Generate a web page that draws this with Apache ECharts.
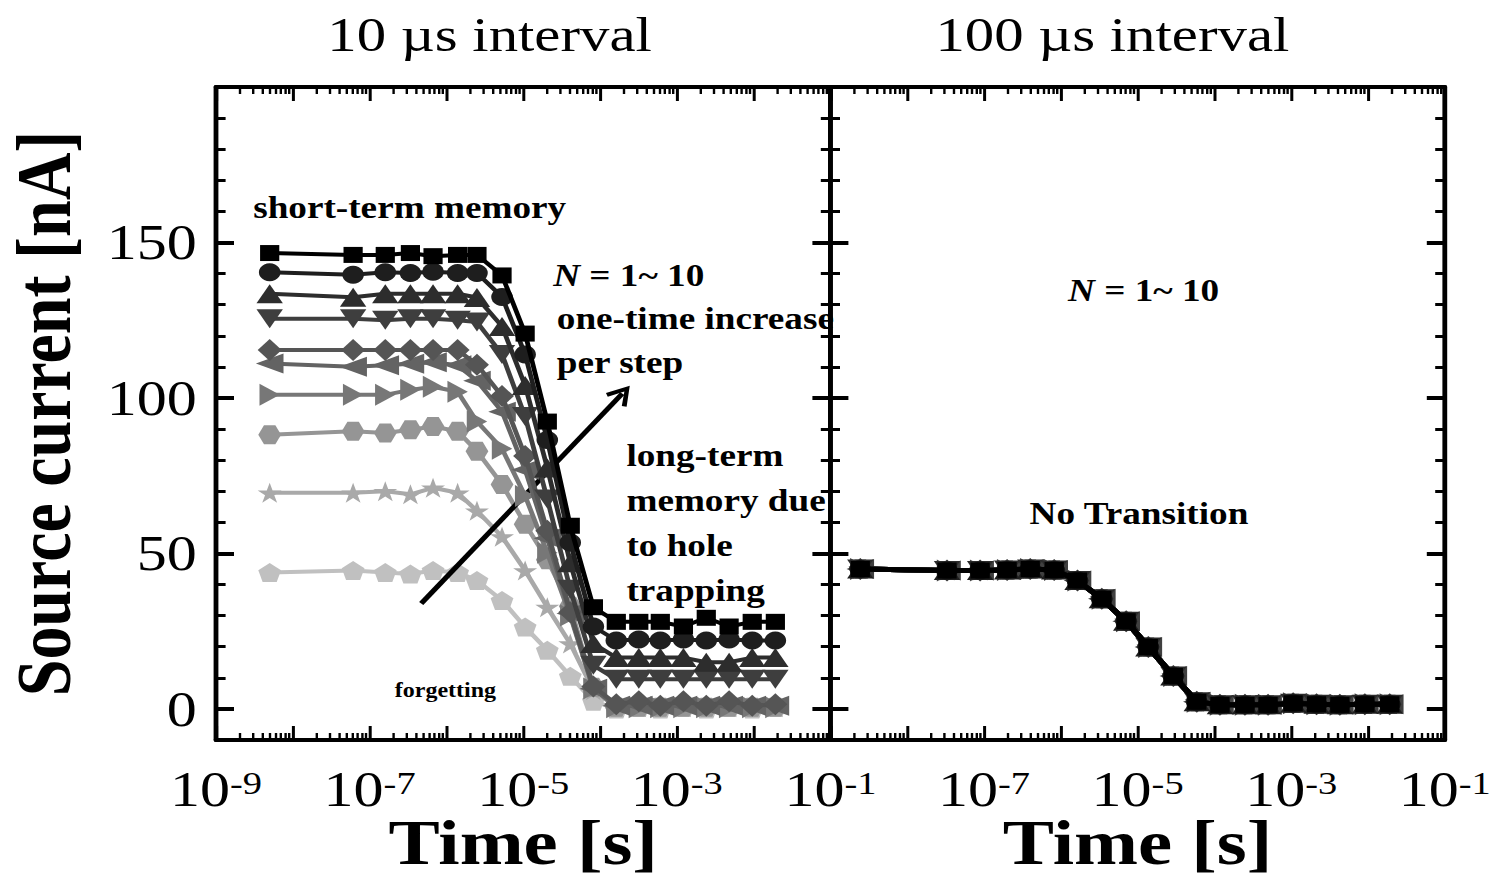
<!DOCTYPE html>
<html>
<head>
<meta charset="utf-8">
<script src="https://cdn.jsdelivr.net/npm/echarts@6.0.0/dist/echarts.min.js"></script>
<style>
  html, body { margin: 0; padding: 0; background: #fff; overflow: hidden; }
  /* the original figure is stretched sideways, so draw narrow and widen it */
  #main { width: 1246px; height: 876px; transform: scaleX(1.2); transform-origin: 0 0; }
</style>
</head>
<body>
<div id="main"></div>
<script>
// time axis of every curve [s]
const timeLeft = [5.0e-9, 6.1e-8, 1.6e-7, 3.4e-7, 6.7e-7, 1.4e-6, 2.5e-6, 5.3e-6, 1.06e-5, 2.06e-5,
  4.1e-5, 8.2e-5, 1.63e-4, 3.2e-4, 6.1e-4, 1.22e-3, 2.42e-3, 4.8e-3, 9.6e-3, 1.92e-2];
const timeRight = [2.45e-9, 3.3e-8, 8.9e-8, 2.0e-7, 4.0e-7, 8.2e-7, 1.65e-6, 3.42e-6, 7.1e-6, 1.38e-5,
  2.92e-5, 5.9e-5, 1.18e-4, 2.5e-4, 5.0e-4, 1.06e-3, 2.14e-3, 4.3e-3, 9.1e-3, 1.92e-2];

// 10 us interval, source current [nA] for N = 1 .. 10
const leftN1 = [43.9, 44.5, 43.9, 43.4, 44.5, 43.9, 41.3, 34.9, 26.3, 18.9, 10.5, 2.5, 0.0, 0.5, 0.0, 0.5, 0.0, 0.5, 0.0, 0.5];
const leftN2 = [69.5, 69.5, 70.0, 69.0, 71.1, 69.5, 63.7, 55.4, 44.5, 32.7, 21.0, 6.0, 0.5, 0.5, 0.5, 0.5, 0.5, 0.5, 0.5, 0.5];
const leftN3 = [88.2, 89.3, 88.7, 89.8, 90.8, 89.3, 82.9, 72.2, 59.4, 48.0, 33.0, 7.0, 0.5, 0.5, 0.5, 0.5, 0.5, 0.5, 0.5, 0.5];
const leftN4 = [101.0, 101.0, 101.0, 102.6, 103.6, 102.0, 92.4, 83.7, 68.5, 50.2, 30.0, 6.6, 0.5, 0.5, 0.5, 0.5, 0.5, 0.5, 0.5, 0.5];
const leftN5 = [111.1, 110.0, 110.5, 111.0, 111.5, 110.5, 105.5, 95.6, 76.9, 54.9, 30.7, 6.5, 1.0, 1.0, 1.0, 1.0, 1.0, 1.0, 1.0, 1.0];
const leftN6 = [115.4, 115.4, 115.4, 115.4, 115.4, 115.4, 110.7, 100.6, 81.3, 57.3, 31.1, 7.2, 1.5, 2.5, 1.0, 2.5, 1.0, 2.5, 1.0, 1.5];
const leftN7 = [125.5, 125.5, 125.0, 125.5, 125.5, 125.0, 124.4, 114.0, 94.0, 67.5, 38.5, 14.0, 9.5, 9.5, 9.5, 9.5, 9.5, 9.5, 9.5, 9.5];
const leftN8 = [133.5, 132.4, 133.5, 133.5, 133.5, 133.5, 132.3, 123.0, 104.0, 77.5, 47.0, 21.0, 16.5, 16.5, 16.5, 16.5, 15.0, 15.0, 16.5, 16.5];
const leftN9 = [140.4, 139.6, 140.4, 140.2, 140.6, 140.2, 140.2, 132.5, 114.0, 86.5, 53.5, 26.5, 22.0, 22.3, 22.0, 22.3, 22.0, 22.3, 22.0, 22.0];
const leftN10 = [146.6, 146.0, 146.0, 146.6, 145.6, 146.0, 146.0, 139.4, 120.7, 92.4, 58.9, 32.7, 28.0, 28.0, 28.0, 26.5, 29.3, 26.5, 28.0, 28.0];

// 100 us interval: all ten curves fall on top of each other
const rightCurrent = [45.0, 44.5, 44.5, 44.7, 45.0, 44.7, 41.3, 35.4, 28.2, 19.9, 10.6, 2.3, 1.3, 1.3, 1.3, 1.8, 1.5, 1.3, 1.5, 1.5];

const seriesNames = ['N=1', 'N=2', 'N=3', 'N=4', 'N=5', 'N=6', 'N=7', 'N=8', 'N=9', 'N=10'];

// arrow "N = 1~10" in data units [time, current]
const arrowFrom = [4.7e-7, 33.9];
const arrowTo = [1.95e-4, 101.4];

const FONT = '"Liberation Serif", "Times New Roman", serif';

const leftValues = [leftN1, leftN2, leftN3, leftN4, leftN5, leftN6, leftN7, leftN8, leftN9, leftN10];
const leftColors = ['#c0c0c0', '#a9a9a9', '#959595', '#777777', '#636363', '#555555', '#3e3e3e', '#2d2d2d', '#1e1e1e', '#000000'];
const rightColors = ['#6a6a6a', '#606060', '#555555', '#4a4a4a', '#404040', '#353535', '#2a2a2a', '#1e1e1e', '#121212', '#000000'];
const symbols = [
  'path://M50,0L97.6,34.5L79.4,90.5L20.6,90.5L2.4,34.5Z',
  'path://M50,0L61.8,35.1L98.9,35.1L68.8,56.8L80.3,91.9L50,70.2L19.7,91.9L31.2,56.8L1.1,35.1L38.2,35.1Z',
  'path://M2.5,0L7.5,0L10,4.33L7.5,8.66L2.5,8.66L0,4.33Z',
  'path://M10,5L0,0L0,10Z',
  'path://M0,5L10,0L10,10Z',
  'diamond',
  'path://M0,0L10,0L5,10Z',
  'triangle',
  'circle',
  'rect'
];
const symbolSizes = [19, 20, 19, [17, 22], [23, 20], [20, 22], [22, 19], [22, 19], 18, 16];

const arrowHead = 'path://M5,0L10,9L8.4,10L5,3.6L1.6,10L0,9Z';

function decadeLabel(hideFirst) {
  return function (v) {
    const e = Math.round(Math.log10(v));
    if (e % 2 === 0) return '';
    if (hideFirst && e === -9) return '';
    return '{b|10}{s|' + e + '}';
  };
}

function xAxes(g) {
  const common = {
    type: 'log',
    logBase: 10,
    gridIndex: g,
    min: 1e-9,
    max: 1e-1,
    interval: 1,
    splitNumber: 8,
    splitLine: { show: false },
    minorSplitLine: { show: false },
    axisLine: { show: true, onZero: false, lineStyle: { color: '#000', width: 4 } },
    axisTick: { show: true, inside: true, length: 14, lineStyle: { color: '#000', width: 2.5 } },
    minorTick: { show: true, splitNumber: 9, length: 7, lineStyle: { color: '#000', width: 2 } },
  };
  return [
    Object.assign({}, common, {
      position: 'bottom',
      axisLabel: {
        formatter: decadeLabel(g === 1),
        margin: 28,
        color: '#000',
        fontFamily: FONT,
        rich: {
          b: { fontSize: 50, lineHeight: 42, fontFamily: FONT, color: '#000' },
          s: { fontSize: 32, lineHeight: 34, fontFamily: FONT, color: '#000', verticalAlign: 'top' },
        },
      },
      name: 'Time [s]',
      nameLocation: 'middle',
      nameGap: 76,
      nameMoveOverlap: false,
      nameTextStyle: { fontSize: 64, lineHeight: 52, fontWeight: 'bold', fontFamily: FONT, color: '#000' },
    }),
    Object.assign({}, common, { position: 'top', axisLabel: { show: false } }),
  ];
}

function yAxes(g) {
  const base = {
    type: 'value',
    gridIndex: g,
    min: -10,
    max: 200,
    splitLine: { show: false },
  };
  const major = Object.assign({}, base, {
    splitNumber: 4,
    axisLine: { show: true, onZero: false, lineStyle: { color: '#000', width: 4 } },
    axisTick: { show: true, inside: true, length: 15, lineStyle: { color: '#000', width: 4 } },
  });
  const minor = Object.assign({}, base, {
    interval: 10,
    axisLine: { show: false },
    axisTick: { show: true, inside: true, length: 8, lineStyle: { color: '#000', width: 3 } },
    axisLabel: { show: false },
  });
  const left = Object.assign({}, major, {
    position: 'left',
    axisLabel: {
      show: g === 0,
      margin: 16,
      fontSize: 50,
      fontFamily: FONT,
      color: '#000',
      formatter: function (v) { return v >= 0 && v < 200 ? String(v) : ''; },
    },
  });
  if (g === 0) {
    left.name = 'Source current [nA]';
    left.nameLocation = 'middle';
    left.nameGap = 114;
    left.nameMoveOverlap = false;
    left.nameTextStyle = { fontSize: 66, lineHeight: 60, fontWeight: 'bold', fontFamily: FONT, color: '#000' };
  }
  return [
    left,
    Object.assign({}, minor, { position: 'left' }),
    Object.assign({}, major, { position: 'right', axisLabel: { show: false } }),
    Object.assign({}, minor, { position: 'right' }),
  ];
}

const series = [];
for (let i = 0; i < 10; i++) {
  series.push({
    name: seriesNames[i],
    type: 'line',
    xAxisIndex: 0,
    yAxisIndex: 0,
    data: timeLeft.map(function (t, k) { return [t, leftValues[i][k]]; }),
    symbol: symbols[i],
    symbolSize: symbolSizes[i],
    showAllSymbol: true,
    lineStyle: { color: leftColors[i], width: 4 },
    itemStyle: { color: leftColors[i] },
    emphasis: { disabled: true },
    z: 2 + i,
  });
}
series[9].markLine = {
  silent: true,
  animation: false,
  symbol: ['none', arrowHead],
  symbolSize: [22, 20],
  label: { show: false },
  emphasis: { disabled: true },
  lineStyle: { color: '#000', width: 4.5, type: 'solid' },
  data: [[{ coord: arrowFrom }, { coord: arrowTo }]],
};
for (let i = 0; i < 10; i++) {
  series.push({
    name: seriesNames[i] + ' (100 us)',
    type: 'line',
    xAxisIndex: 2,
    yAxisIndex: 4,
    data: timeRight.map(function (t, k) { return [t, rightCurrent[k]]; }),
    symbol: symbols[i],
    symbolSize: symbolSizes[i],
    showAllSymbol: true,
    lineStyle: { color: rightColors[i], width: 5 },
    itemStyle: { color: rightColors[i] },
    emphasis: { disabled: true },
    z: 2 + i,
  });
}

function txt(x, y, text, size) {
  return {
    type: 'text',
    x: x,
    y: y,
    z: 50,
    silent: true,
    style: {
      text: text,
      fontSize: size,
      fontWeight: 'bold',
      fontFamily: FONT,
      fill: '#000',
      align: 'left',
      verticalAlign: 'middle',
      rich: { i: { fontStyle: 'italic', fontWeight: 'bold', fontSize: size, fontFamily: FONT } },
    },
  };
}

const graphics = [
  txt(408, 35, '10 \u00b5s interval', 49),
  txt(927, 35, '100 \u00b5s interval', 49),
  txt(211, 207, 'short-term memory', 31),
  txt(461, 275, '{i|N} = 1~ 10', 31),
  txt(464, 318, 'one-time increase', 31),
  txt(464, 362, 'per step', 31),
  txt(522, 455, 'long-term', 31),
  txt(522, 500, 'memory due', 31),
  txt(522, 545, 'to hole', 31),
  txt(522, 590, 'trapping', 31),
  txt(329, 690, 'forgetting', 20),
  txt(890, 290, '{i|N} = 1~ 10', 31),
  txt(858, 513, 'No Transition', 31),
];
graphics[0].style.fontWeight = 'normal';
graphics[0].style.align = 'center';
graphics[1].style.fontWeight = 'normal';
graphics[1].style.align = 'center';

const chart = echarts.init(document.getElementById('main'), null, { renderer: 'svg' });
chart.setOption({
  animation: false,
  backgroundColor: '#fff',
  grid: [
    { left: 180, top: 87, width: 512, height: 653, outerBoundsMode: 'none', containLabel: false },
    { left: 692, top: 87, width: 512, height: 653, outerBoundsMode: 'none', containLabel: false },
  ],
  xAxis: xAxes(0).concat(xAxes(1)),
  yAxis: yAxes(0).concat(yAxes(1)),
  series: series,
  graphic: graphics,
});
</script>
</body>
</html>
